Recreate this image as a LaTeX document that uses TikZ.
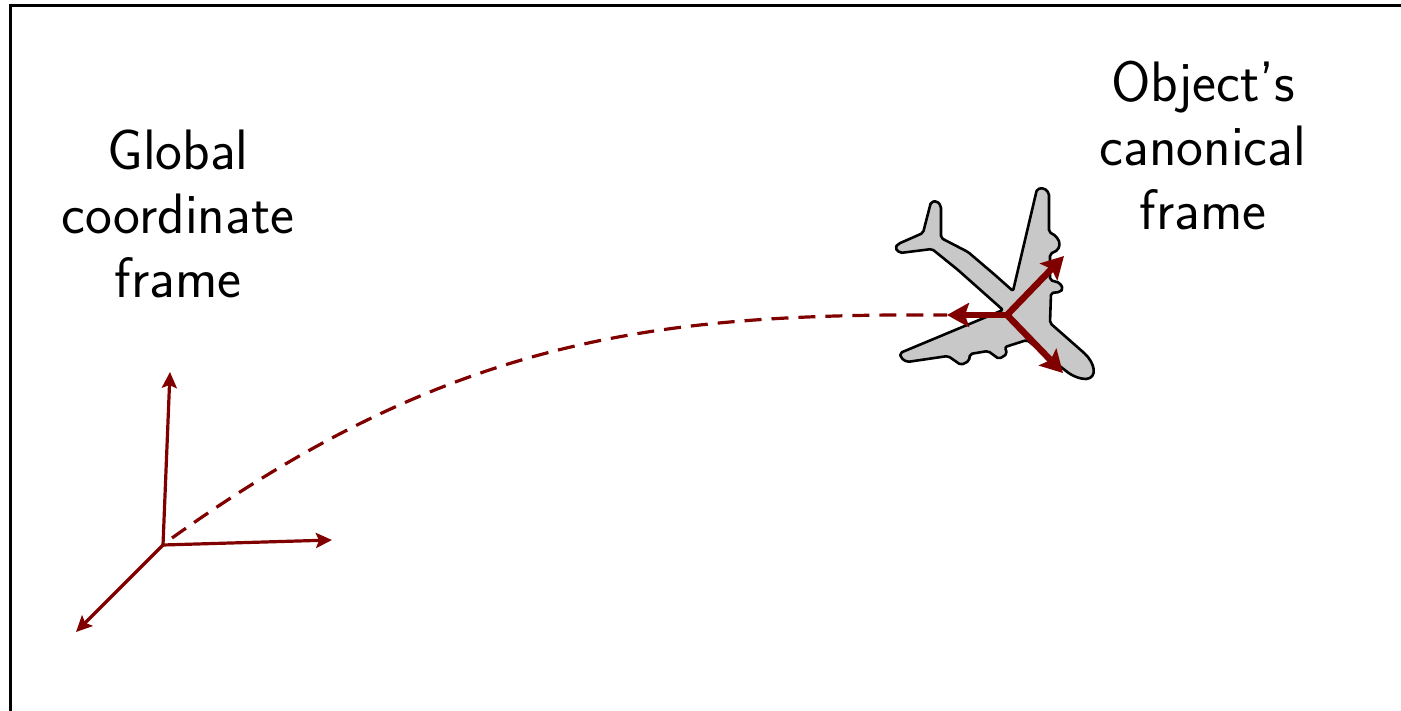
\documentclass[tikz,border=0pt]{standalone}
\usetikzlibrary{arrows.meta}
\definecolor{axisred}{RGB}{128,0,0}
\definecolor{planegray}{RGB}{200,200,200}
\begin{document}
\begin{tikzpicture}[x=1pt,y=-1pt,
  caption/.style={font=\sffamily\fontsize{57}{64}\selectfont, align=center, inner sep=0pt, anchor=base},
  worldaxis/.style={draw=axisred, line width=3.2pt, -{Stealth[length=16pt,width=15pt,inset=3pt]}},
  bodyaxis/.style={draw=axisred, line width=6.5pt, -{Stealth[length=22pt,width=24pt,inset=4pt]}},
  pathline/.style={draw=axisred, line width=3.2pt, dash pattern=on 17pt off 10pt},
  planebody/.style={fill=planegray, draw=black, line width=2.6pt, line join=round, rounded corners=2pt}]
\useasboundingbox (0,0) rectangle (1401,711);
\clip (0,0) rectangle (1401,711);
% outer frame, open to the right and bottom
\draw[line width=3pt] (10.5,5.5) rectangle (1430,740);

% captions (anchored at the baseline of their last line)
\node[caption] (globaltxt) at (178,298) {Global\\coordinate\\frame};
\node[caption] (objecttxt) at (1203,230) {Object's\\canonical\\frame};

% airplane silhouette
\path[planebody]
  (931,202) -- (937,201) -- (941,206) -- (941,238)
  -- (968,252) -- (995,275) -- (1013,291)
  -- (1037,189) -- (1044,188) -- (1049,193) -- (1049,232)
  -- (1056,236) -- (1060,243) -- (1058,250) -- (1050,254)
  -- (1050,280) -- (1060,283) -- (1063,289) -- (1060,292) -- (1051,293)
  -- (1050,323) -- (1083,352)
  [rounded corners=0pt] .. controls (1095,363) and (1098,378) .. (1086,379)
  .. controls (1080,379) and (1072,376) .. (1066,371) [rounded corners=2pt]
  -- (1027,340) -- (1005,347) -- (1007,354) -- (999,359) -- (988,351)
  -- (970,354) -- (969,361) -- (961,365) -- (948,356)
  -- (907,362) -- (901,358) -- (900,353)
  -- (1003,310) -- (958,270) -- (932,249)
  -- (900,253) -- (895,248) -- (898,244) -- (923,233) -- cycle;

% frame origins and axis ends
\coordinate (G) at (163,545);
\coordinate (Gx) at (332,540);
\coordinate (Gy) at (170,372);
\coordinate (Gz) at (76,632);
\coordinate (P) at (1007,315);
\coordinate (Px) at (1064,256);
\coordinate (Py) at (1063,373);
\coordinate (Pz) at (947,315);

% dashed path between the two frames
\path[pathline] ([shift={(9,-7)}]G) .. controls (450,340) and (650,313) .. (Pz);

% global axes
\draw[worldaxis] (G) -- (Gy);
\draw[worldaxis] (G) -- (Gx);
\draw[worldaxis] (G) -- (Gz);

% object axes
\draw[bodyaxis] (P) -- (Pz);
\draw[bodyaxis] (P) -- (Px);
\draw[bodyaxis] (P) -- (Py);
\end{tikzpicture}
\end{document}
